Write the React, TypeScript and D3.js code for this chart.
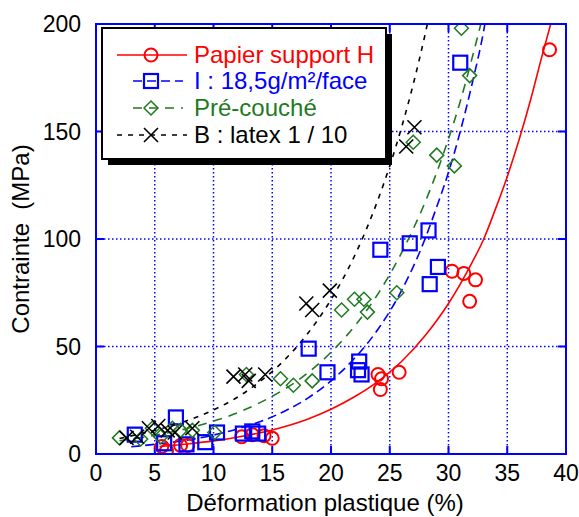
import React from "react";
import * as d3 from "d3";

const xTicks = [0, 5, 10, 15, 20, 25, 30, 35, 40];
const yTicks = [0, 50, 100, 150, 200];

// Scatter data: [strain %, stress MPa]
const papierPts: [number, number][] = [
  [5.6, 3.5], [6.0, 1.5], [7.2, 4], [7.8, 4], [12.4, 8], [13.3, 9], [14.3, 8.5], [15.0, 7.3],
  [24.0, 37], [24.3, 35], [24.2, 30], [25.8, 38], [30.3, 85], [31.3, 84], [32.3, 81], [31.8, 71], [38.6, 188],
];
const iPts: [number, number][] = [
  [3.3, 9], [5.8, 5], [6.8, 17], [7.7, 4.5], [9.3, 5.5], [10.3, 10], [12.5, 9.5], [13.3, 10.5], [13.8, 9.5],
  [18.1, 49], [19.7, 38], [22.4, 43], [22.3, 39], [22.6, 37], [24.2, 95], [26.7, 98], [28.3, 104], [28.4, 79],
  [29.1, 87], [31.0, 182],
];
const precouchePts: [number, number][] = [
  [2.0, 7.5], [3.8, 7], [4.8, 12], [5.5, 8], [6.5, 12], [7.2, 11], [8.2, 11], [10.1, 10], [12.8, 37],
  [15.7, 35], [16.8, 32], [18.4, 34], [20.9, 67], [22.0, 72], [22.8, 72], [23.1, 66], [25.6, 75], [27.0, 145],
  [29.0, 139], [30.5, 134], [31.8, 176], [31.1, 198],
];
const latexPts: [number, number][] = [
  [2.6, 7.5], [3.5, 8], [4.5, 12], [5.3, 13], [6.1, 11], [6.7, 10], [8.2, 12], [11.7, 36], [12.7, 37],
  [13.0, 34], [14.4, 37], [17.9, 70], [18.4, 67], [19.9, 76], [26.4, 143], [27.1, 152],
];

// Fitted curves
const papierFit: [number, number][] = [
  [5.4, 3.5], [8, 4.8], [10, 6.1], [12, 7.8], [15, 11.2], [18, 16.2], [20, 20.8], [22, 26.6], [24, 33.8],
  [26, 43], [28, 55], [30, 70], [32, 89], [33, 100], [34, 114], [35, 129], [36, 146], [37, 165], [38, 186], [38.7, 200],
];
const iFit: [number, number][] = [
  [3, 3.4], [5, 4.5], [8, 6.7], [10, 8.8], [12, 11.6], [14, 15.1], [16, 19.8], [18, 25.9], [20, 34], [22, 44.5],
  [24, 58], [26, 76], [28, 100], [29, 115], [30, 131], [31, 150], [32, 172], [33, 197], [33.1, 200],
];
const precoucheFit: [number, number][] = [
  [2, 6.2], [5, 8.7], [8, 12.2], [10, 15.3], [12, 19.1], [14, 24], [16, 30], [18, 37.6], [20, 47.3], [22, 59.4],
  [24, 74.5], [26, 93.5], [27, 104.7], [28, 117], [29, 131], [30, 146.6], [31, 164], [32, 184], [32.75, 200],
];
const latexFit: [number, number][] = [
  [2, 7.2], [4, 9.7], [6, 12.4], [8, 16], [10, 20.5], [12, 26.3], [14, 33.9], [16, 43.5], [18, 55.9], [20, 71.8],
  [22, 92.1], [23, 104.4], [24, 118.3], [25, 134], [26, 151.8], [27, 172], [28, 195], [28.2, 200],
];

const legendLabels = ["Papier support H", "I : 18,5g/m²/face", "Pré-couché", "B : latex 1 / 10"];

const RED = "#ff0000";
const BLUE = "#0000ff";
const GREEN = "#1f7a1f";
const BLACK = "#000000";
const FONT = "'Liberation Sans', Arial, sans-serif";

const W = 579;
const H = 517;
const L = 96, R = 566, T = 24, B = 454;

const x = d3.scaleLinear().domain([0, 40]).range([L, R]);
const y = d3.scaleLinear().domain([0, 200]).range([B, T]);

const line = d3.line<[number, number]>().x((d) => x(d[0])).y((d) => y(d[1])).curve(d3.curveMonotoneX);

function Marker({ kind, cx, cy, color }: { kind: string; cx: number; cy: number; color: string }) {
  if (kind === "circle") return <circle cx={cx} cy={cy} r={6.5} fill="none" stroke={color} strokeWidth={2} />;
  if (kind === "square") return <rect x={cx - 7} y={cy - 7} width={14} height={14} fill="none" stroke={color} strokeWidth={2.2} />;
  if (kind === "diamond")
    return (
      <path d={`M${cx - 7},${cy}L${cx},${cy - 7}L${cx + 7},${cy}L${cx},${cy + 7}Z`} fill="none" stroke={color} strokeWidth={1.5} />
    );
  return (
    <path d={`M${cx - 7},${cy - 7}L${cx + 7},${cy + 7}M${cx - 7},${cy + 7}L${cx + 7},${cy - 7}`} fill="none" stroke={color} strokeWidth={1.6} />
  );
}

const series = [
  { pts: papierPts, fit: papierFit, color: RED, kind: "circle", dash: "none" },
  { pts: iPts, fit: iFit, color: BLUE, kind: "square", dash: "9,5" },
  { pts: precouchePts, fit: precoucheFit, color: GREEN, kind: "diamond", dash: "9,7" },
  { pts: latexPts, fit: latexFit, color: BLACK, kind: "x", dash: "5,6" },
];

export default function App() {
  const legendY = [55, 81, 108, 135];
  return (
    <svg width={W} height={H} style={{ position: "absolute", left: 0, top: 0, background: "#fff" }}>
      <defs>
        <clipPath id="plot">
          <rect x={L} y={T} width={R - L} height={B - T} />
        </clipPath>
      </defs>
      {/* grid */}
      {xTicks.slice(1, -1).map((t) => (
        <line key={"gx" + t} x1={x(t)} x2={x(t)} y1={T} y2={B} stroke={BLUE} strokeWidth={1.5} strokeDasharray="1.5,2.5" />
      ))}
      {yTicks.slice(1, -1).map((t) => (
        <line key={"gy" + t} x1={L} x2={R} y1={y(t)} y2={y(t)} stroke={BLUE} strokeWidth={1.5} strokeDasharray="1.5,2.5" />
      ))}
      {/* inner ticks */}
      {xTicks.slice(1, -1).map((t) => (
        <g key={"tx" + t}>
          <line x1={x(t)} x2={x(t)} y1={B} y2={B - 8} stroke={BLUE} strokeWidth={2} />
          <line x1={x(t)} x2={x(t)} y1={T} y2={T + 8} stroke={BLUE} strokeWidth={2} />
        </g>
      ))}
      {yTicks.slice(1, -1).map((t) => (
        <g key={"ty" + t}>
          <line x1={L} x2={L + 8} y1={y(t)} y2={y(t)} stroke={BLUE} strokeWidth={2} />
          <line x1={R} x2={R - 8} y1={y(t)} y2={y(t)} stroke={BLUE} strokeWidth={2} />
        </g>
      ))}
      {/* curves */}
      <g clipPath="url(#plot)">
        {series.map((s, i) => (
          <path key={"c" + i} d={line(s.fit) || ""} fill="none" stroke={s.color} strokeWidth={1.6} strokeDasharray={s.dash} />
        ))}
        {series.map((s, i) => (
          <g key={"m" + i}>
            {s.pts.map((p, j) => (
              <Marker key={j} kind={s.kind} cx={x(p[0])} cy={y(p[1])} color={s.color} />
            ))}
          </g>
        ))}
      </g>
      {/* frame */}
      <rect x={L} y={T} width={R - L} height={B - T} fill="none" stroke={BLUE} strokeWidth={2} />
      {/* tick labels */}
      {xTicks.map((t) => (
        <text key={"lx" + t} x={x(t)} y={481} textAnchor="middle" fontFamily={FONT} fontSize={23} fill="#000">
          {t}
        </text>
      ))}
      {yTicks.map((t) => (
        <text key={"ly" + t} x={81} y={y(t) + 8} textAnchor="end" fontFamily={FONT} fontSize={23} fill="#000">
          {t}
        </text>
      ))}
      <text x={325} y={511} textAnchor="middle" fontFamily={FONT} fontSize={24} fill="#000">
        Déformation plastique (%)
      </text>
      <text
        transform={`translate(29,${(T + B) / 2}) rotate(-90)`}
        textAnchor="middle"
        fontFamily={FONT}
        fontSize={24}
        fill="#000"
        style={{ whiteSpace: "pre" }}
      >
        {"Contrainte  (MPa)"}
      </text>
      {/* legend */}
      <rect x={108} y={34} width={284} height={131} fill="#000" />
      <rect x={102} y={28} width={284} height={131} fill="#fff" stroke="#000" strokeWidth={2} />
      {series.map((s, i) => (
        <g key={"lg" + i}>
          <line
            x1={i === 0 || i === 3 ? 117 : 133}
            x2={i === 0 || i === 3 ? 187 : 183}
            y1={legendY[i]}
            y2={legendY[i]}
            stroke={s.color}
            strokeWidth={1.6}
            strokeDasharray={s.dash}
          />
          <Marker kind={s.kind} cx={151} cy={legendY[i]} color={s.color} />
          <text x={194} y={legendY[i] + 8} fontFamily={FONT} fontSize={24} fill={s.color}>
            {legendLabels[i]}
          </text>
        </g>
      ))}
    </svg>
  );
}
